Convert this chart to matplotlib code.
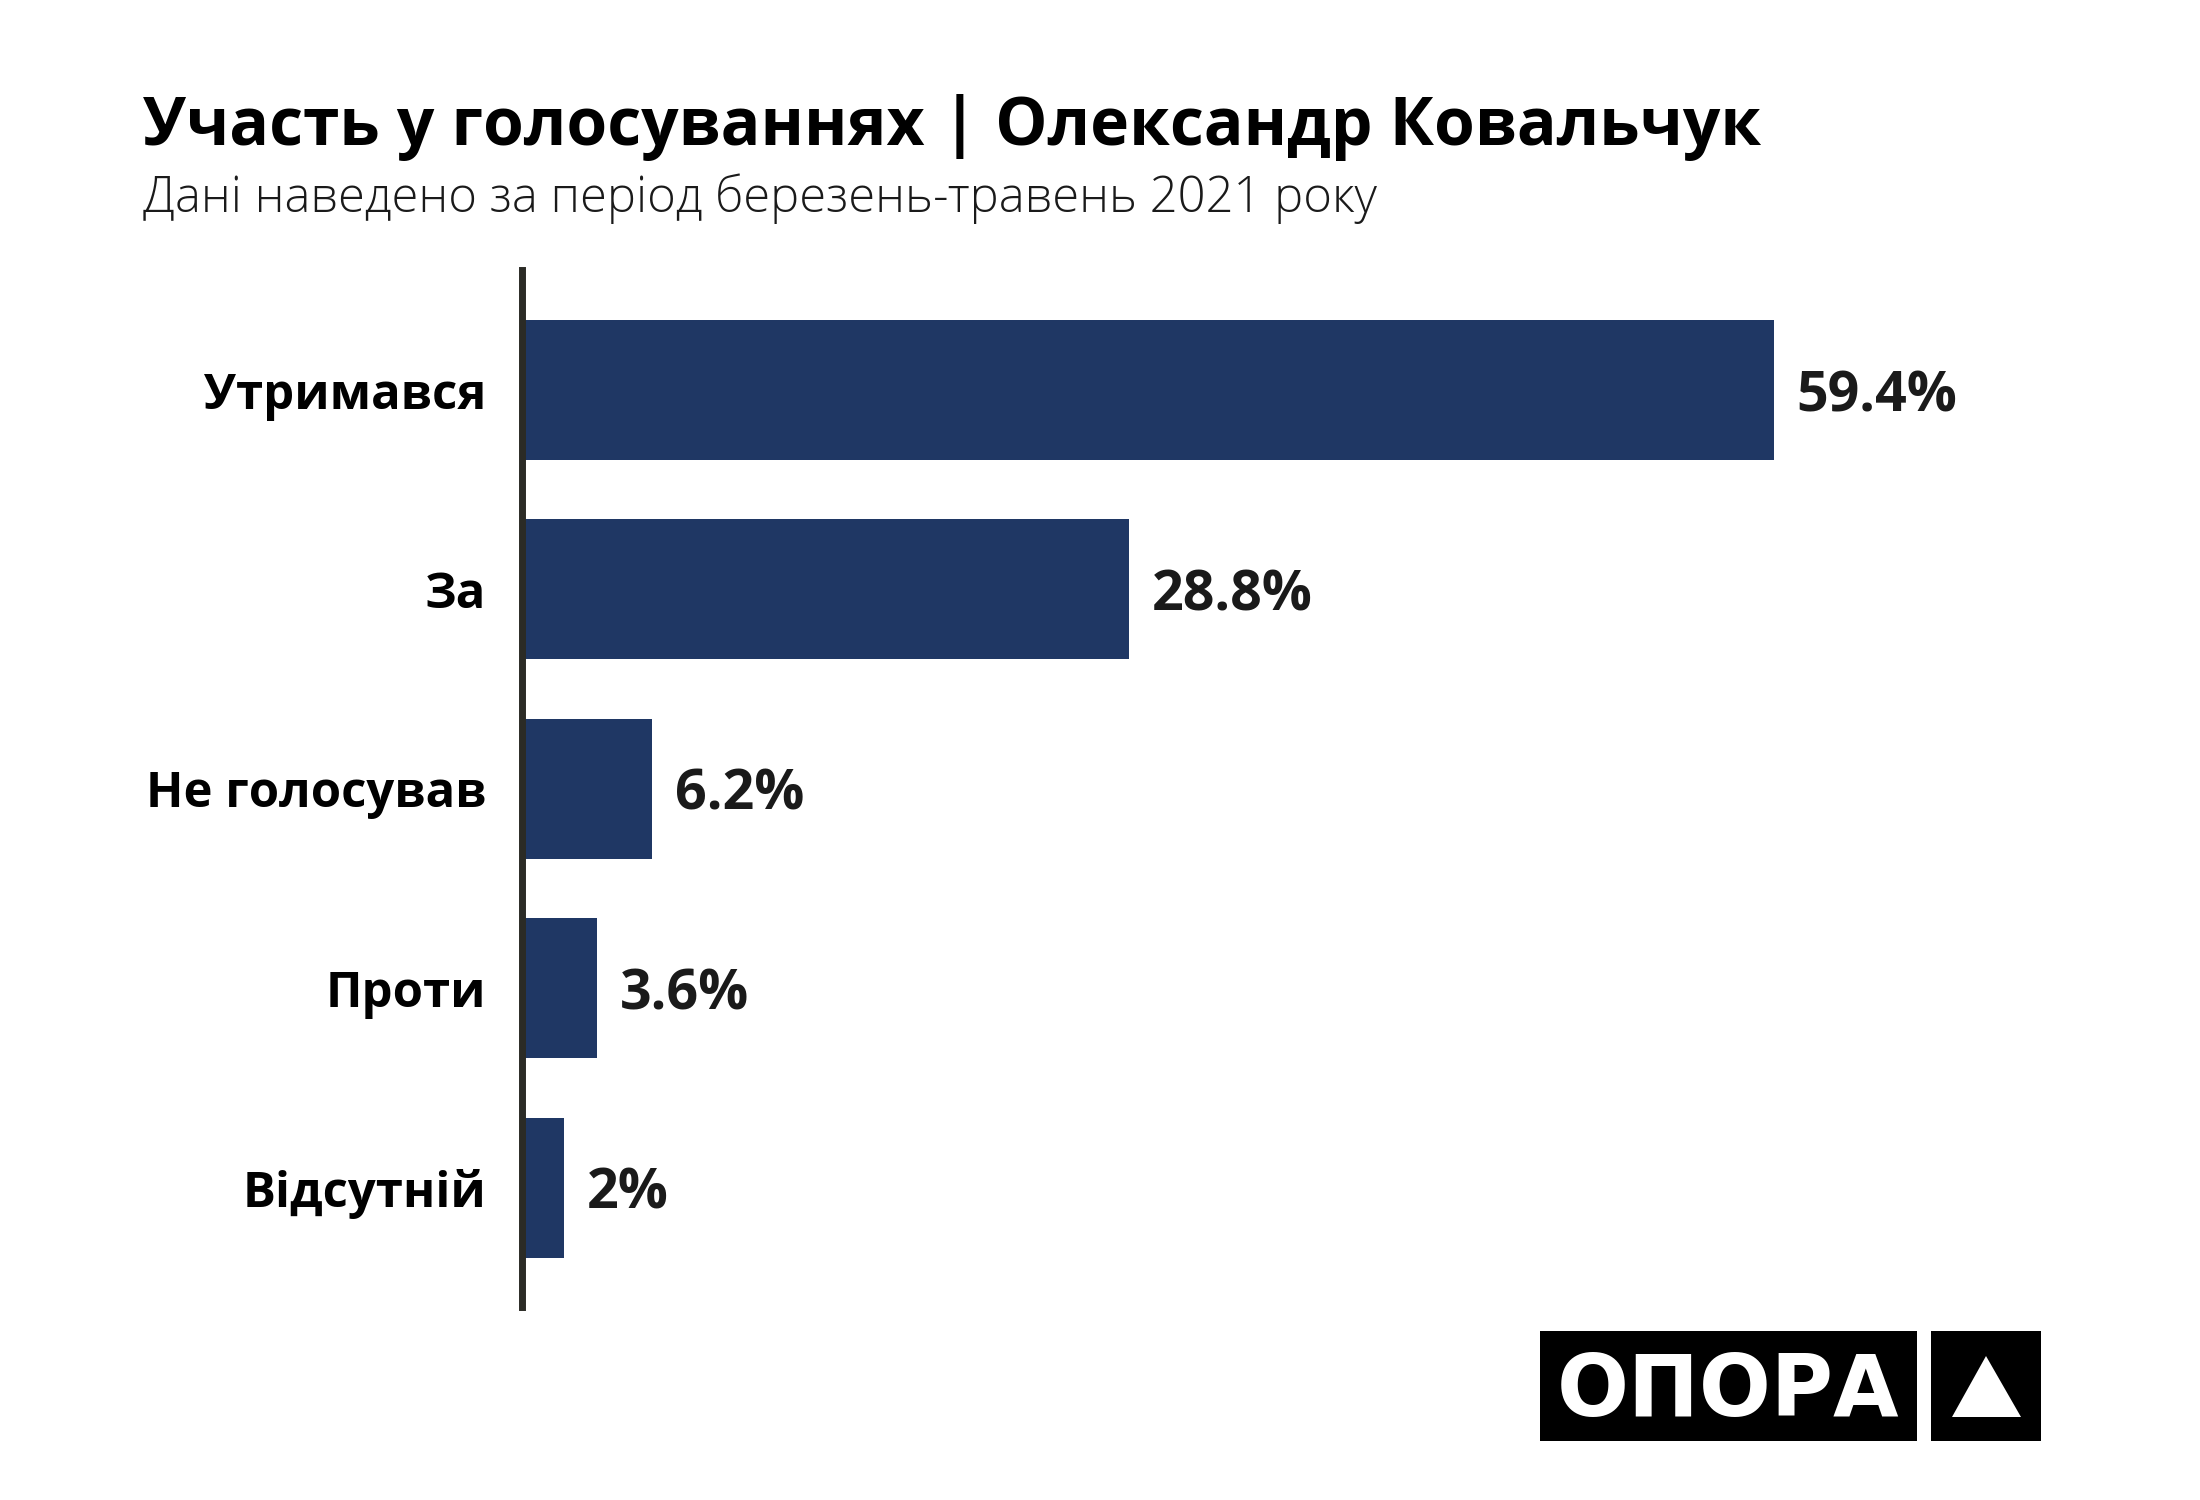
import matplotlib
matplotlib.use("Agg")
import matplotlib.pyplot as plt
from matplotlib.patches import Rectangle, Polygon

categories = ["Утримався", "За", "Не голосував", "Проти", "Відсутній"]
values = [59.4, 28.8, 6.2, 3.6, 2]
title = "Участь у голосуваннях | Олександр Ковальчук"
subtitle = "Дані наведено за період березень-травень 2021 року"
logo_text = "ОПОРА"

FAM = ["Open Sans", "DejaVu Sans"]
plt.rcParams["font.family"] = FAM

W, H = 2200, 1500
fig = plt.figure(figsize=(22, 15), dpi=100)
fig.patch.set_facecolor("white")


def fx(px):
    return px / W


def fy(py):
    return 1 - py / H


ax_left, ax_right, ax_top, ax_bottom = 521.5, 2100, 270, 1307
ax = fig.add_axes([fx(ax_left), fy(ax_bottom), (ax_right - ax_left) / W,
                   (ax_bottom - ax_top) / H])
px_per_unit = 21.08
ax.set_xlim(0, (ax_right - ax_left) / px_per_unit)
ypos = list(range(len(categories)))
ax.barh(ypos, values, height=0.702, color="#1f3764", zorder=2)
ax.set_ylim(4.599, -0.602)

for s in ["top", "right", "bottom"]:
    ax.spines[s].set_visible(False)
ax.spines["left"].set_color("#2b2b26")
ax.spines["left"].set_linewidth(5.0)
ax.spines["left"].set_zorder(3)
ax.set_xticks([])
ax.set_yticks(ypos)
ax.set_yticklabels(categories, fontsize=35.3, fontweight="bold", color="#000000")
ax.tick_params(axis="y", length=0, pad=25.5)
for lbl in ax.get_yticklabels():
    lbl.set_va("center_baseline")

for yi, v in zip(ypos, values):
    ax.annotate(f"{v:g}%", xy=(v, yi), xytext=(16.5, 0), textcoords="offset points",
                ha="left", va="center_baseline", fontsize=40, fontweight="bold",
                color="#1a1a1a")

fig.text(fx(143), fy(145), title, fontsize=47.4, fontweight="bold", color="#000000",
         ha="left", va="baseline")
fig.text(fx(143), fy(212), subtitle, fontsize=35.2, fontweight="light", color="#1a1a1a",
         ha="left", va="baseline")

# logo
fig.add_artist(Rectangle((fx(1540), fy(1441)), (1917 - 1540) / W, (1441 - 1331) / H,
                         transform=fig.transFigure, facecolor="black", edgecolor="none"))
fig.add_artist(Rectangle((fx(1931), fy(1441)), (2041 - 1931) / W, (1441 - 1331) / H,
                         transform=fig.transFigure, facecolor="black", edgecolor="none"))
fig.add_artist(Polygon([(fx(1986), fy(1356)), (fx(1952), fy(1417)), (fx(2021), fy(1417))],
                       closed=True, transform=fig.transFigure, facecolor="white",
                       edgecolor="none"))
fig.text(fx(1728.5), fy(1416), logo_text, fontsize=61, fontweight="bold", color="white",
         family="DejaVu Sans", ha="center", va="baseline")

fig.savefig("out.png", dpi=100, facecolor="white")
